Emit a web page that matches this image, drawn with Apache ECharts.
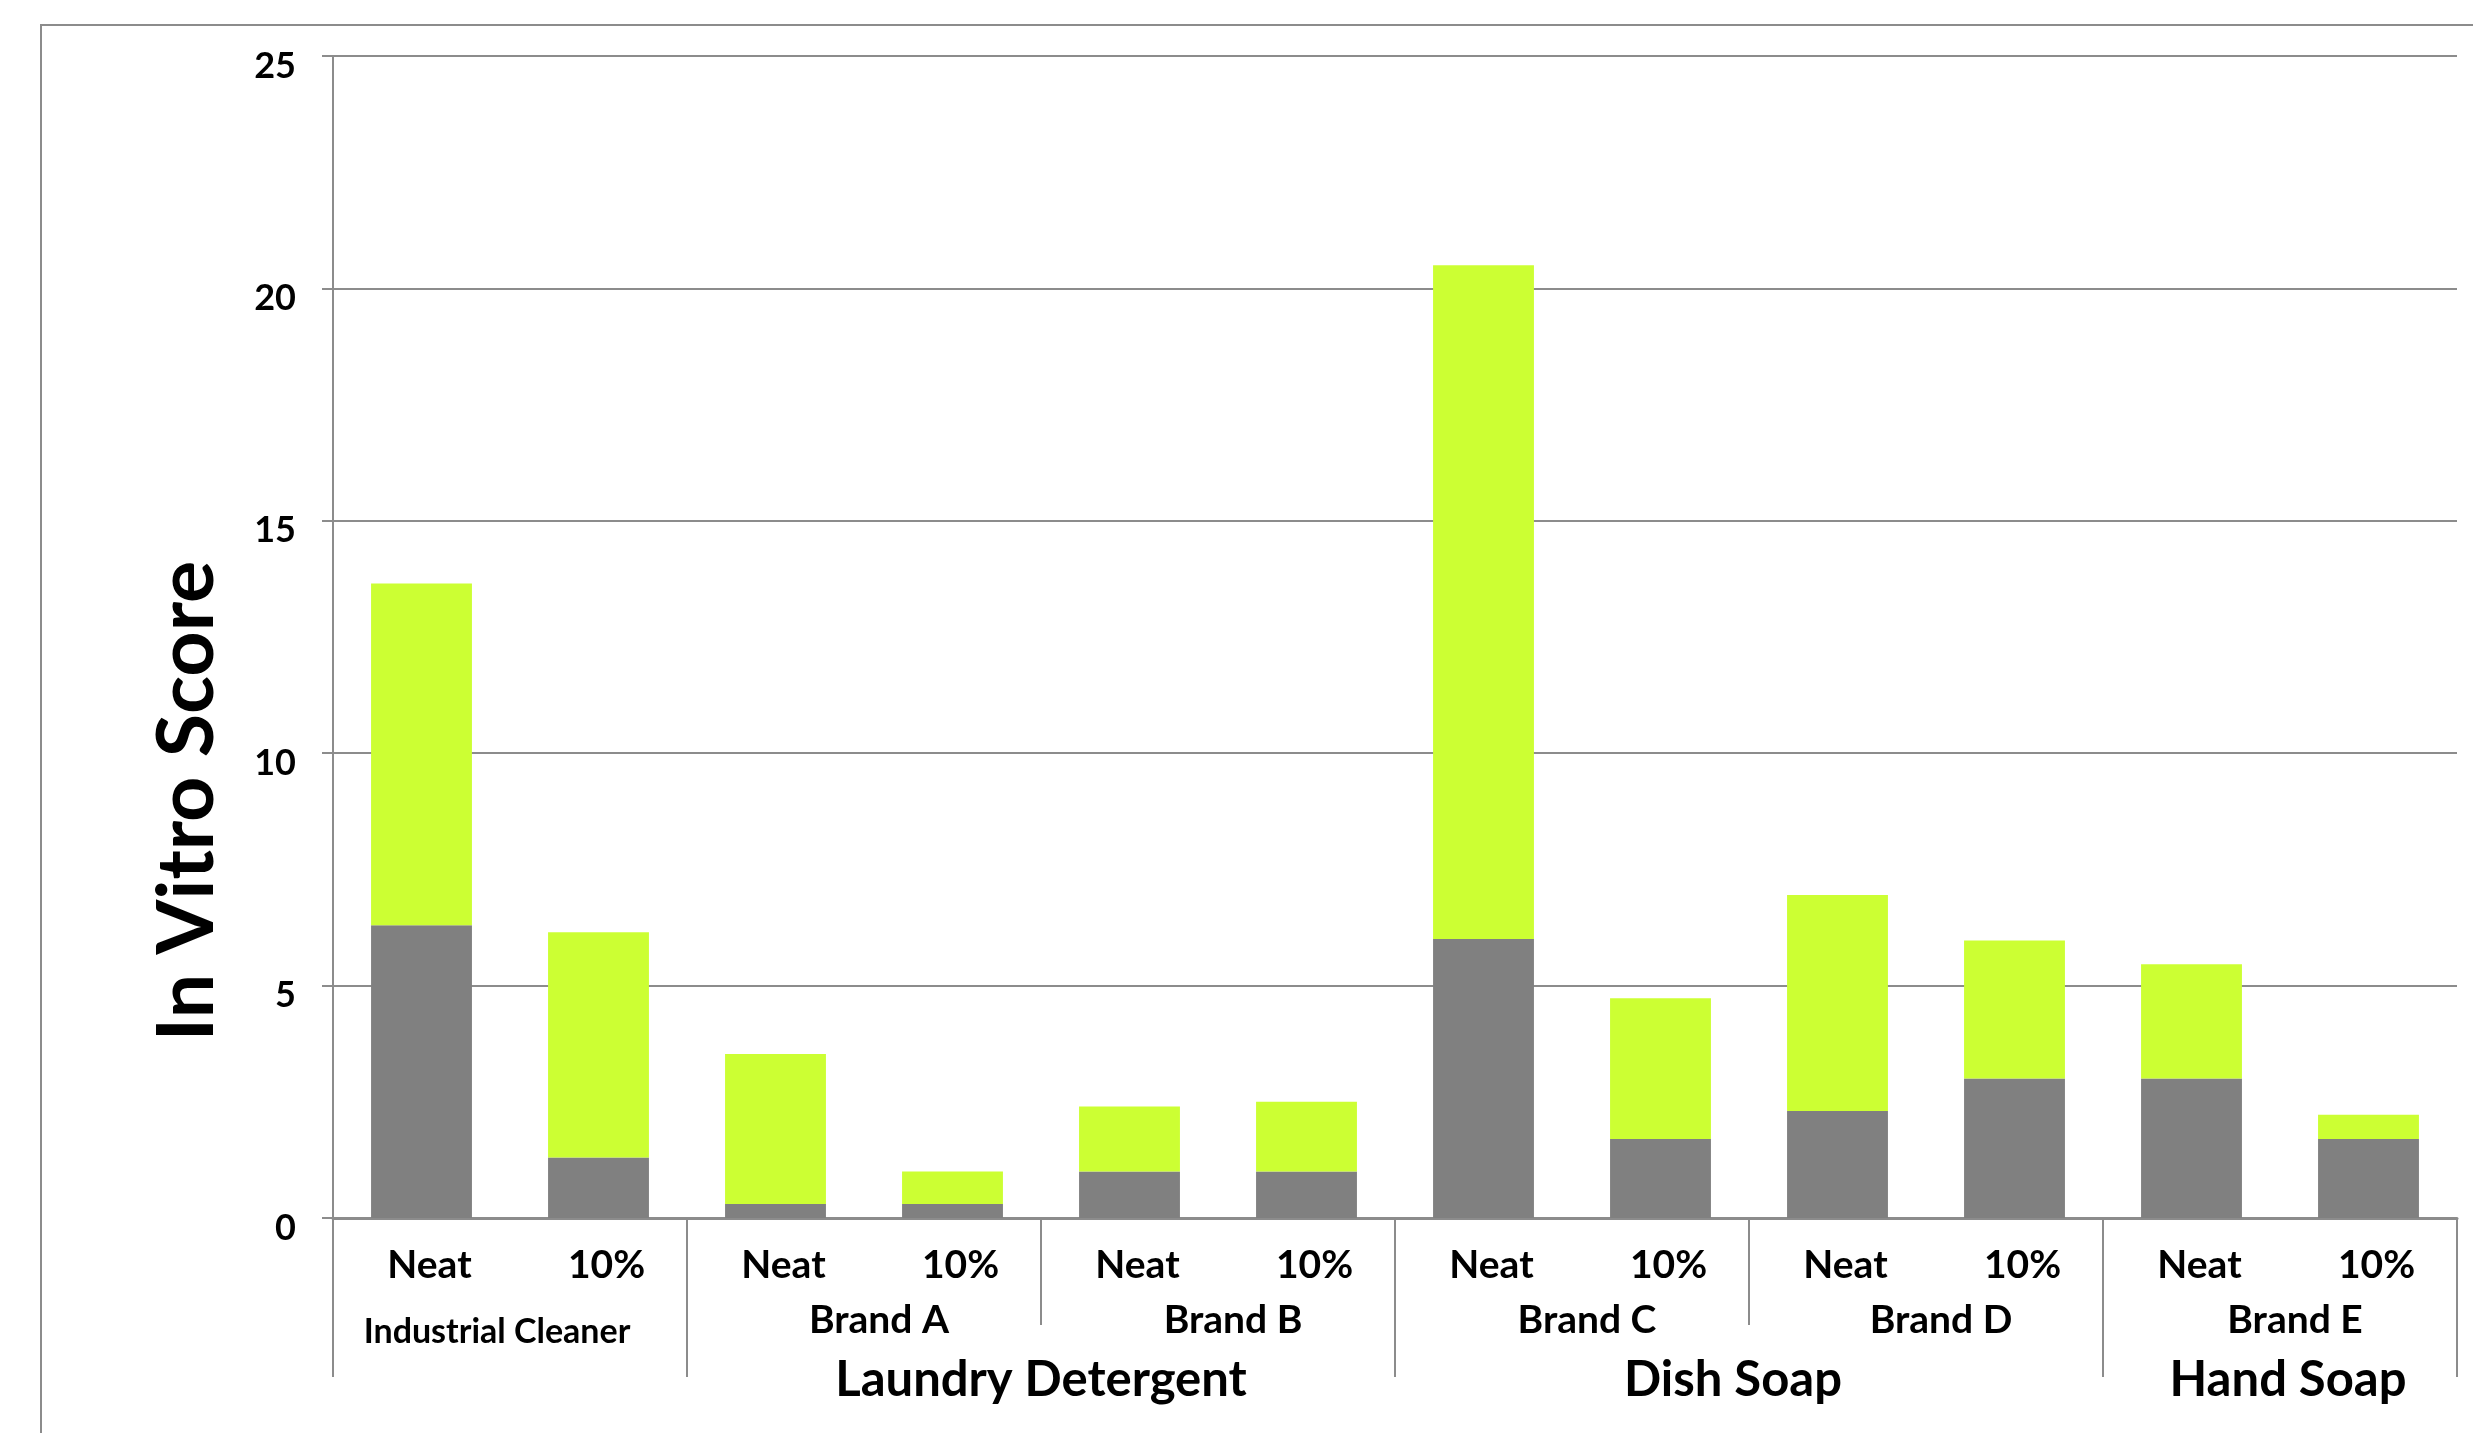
<!DOCTYPE html>
<html>
<head>
<meta charset="utf-8">
<title>In Vitro Score</title>
<script src="https://cdn.jsdelivr.net/npm/echarts@6/dist/echarts.min.js"></script>
<style>
  html, body { margin: 0; padding: 0; background: #fff; }
  #chart { width: 2473px; height: 1433px; }
</style>
</head>
<body>
<div id="chart"></div>
<script>
// Concentration of each bar, two per brand
const categories = ['Neat', '10%', 'Neat', '10%', 'Neat', '10%', 'Neat', '10%', 'Neat', '10%', 'Neat', '10%'];
// Lower (grey) and upper (green) parts of each stacked bar
const grayValues  = [6.3, 1.3, 0.3, 0.3, 1.0, 1.0, 6.0, 1.7, 2.3, 3.0, 3.0, 1.7];
const greenValues = [7.35, 4.85, 3.23, 0.7, 1.4, 1.5, 14.5, 3.03, 4.65, 2.97, 2.46, 0.52];
// Product brands and the number of bars each covers
const brandNames = ['Industrial Cleaner', 'Brand A', 'Brand B', 'Brand C', 'Brand D', 'Brand E'];
const brandSpans = [2, 2, 2, 2, 2, 2];
// Product types and the number of bars each covers
const groupNames = ['', 'Laundry Detergent', 'Dish Soap', 'Hand Soap'];
const groupSpans = [2, 4, 4, 2];
// Value axis
const yMin = 0, yMax = 25, yStep = 5;

const FONT = 'Lato';
const LINE = '#8c8c8c';

// Half-bar resolution axis: point i sits at i/2 bar widths from the left edge
const halfCount = categories.length * 2 + 1;
function spanMarks(spans) {
  const centers = [], bounds = [0];
  let acc = 0;
  spans.forEach(s => { centers.push((acc + s / 2) * 2); acc += s; bounds.push(acc * 2); });
  return { centers, bounds };
}
const brandMarks = spanMarks(brandSpans);
const groupMarks = spanMarks(groupSpans);

const brandAxisData = new Array(halfCount).fill('');
brandMarks.centers.forEach((c, i) => { brandAxisData[c] = brandNames[i]; });
const groupAxisData = new Array(halfCount).fill('');
groupMarks.centers.forEach((c, i) => { groupAxisData[c] = groupNames[i]; });

const groupBounds = new Set(groupMarks.bounds);
const brandOnlyBounds = new Set(brandMarks.bounds);

const chart = echarts.init(document.getElementById('chart'), null, { renderer: 'canvas' });

const groupText = { fontSize: 49, lineHeight: 49, fontWeight: 'bold', fontFamily: FONT, color: '#000' };

chart.setOption({
  animation: false,
  backgroundColor: '#ffffff',
  textStyle: { fontFamily: FONT },
  grid: { left: 333, right: 16, top: 56, bottom: 215, containLabel: false },
  graphic: [
    {
      type: 'rect', silent: true, z: -1,
      shape: { x: 41, y: 25, width: 3000, height: 3000 },
      style: { fill: 'none', stroke: LINE, lineWidth: 2 }
    },
    {
      type: 'text', silent: true,
      x: 188, y: 801, rotation: Math.PI / 2,
      style: {
        text: 'In Vitro Score', fontFamily: FONT, fontWeight: 'bold', fontSize: 79,
        fill: '#000', align: 'center', verticalAlign: 'middle'
      }
    }
  ],
  xAxis: [
    {
      type: 'category', data: categories, position: 'bottom',
      axisLine: { show: true, lineStyle: { color: LINE, width: 3 } },
      axisTick: { show: false },
      axisLabel: {
        interval: 0, margin: 28, color: '#000', fontFamily: FONT, fontWeight: 'bold',
        fontSize: 39, lineHeight: 39, padding: [0, 0, 0, 16]
      },
      splitLine: { show: false }
    },
    {
      type: 'category', data: brandAxisData, boundaryGap: false, position: 'bottom',
      axisLine: { show: false },
      axisTick: {
        show: true, length: 107, inside: false,
        interval: (i) => brandOnlyBounds.has(i),
        lineStyle: { color: LINE, width: 2 }
      },
      axisLabel: {
        interval: 0, margin: 83, color: '#000', fontFamily: FONT, fontWeight: 'bold',
        formatter: (v) => v === '' ? '' : (v === brandNames[0] ? '{ic|' + v + '}' : '{b|' + v + '}'),
        rich: {
          b: { fontSize: 39, lineHeight: 39, fontWeight: 'bold', fontFamily: FONT, color: '#000', padding: [0, 0, 0, 30] },
          ic: { fontSize: 34, lineHeight: 63, fontWeight: 'bold', fontFamily: FONT, color: '#000', padding: [0, 26, 0, 0] }
        }
      },
      splitLine: { show: false }
    },
    {
      type: 'category', data: groupAxisData, boundaryGap: false, position: 'bottom',
      axisLine: { show: false },
      axisTick: {
        show: true, length: 159, inside: false,
        interval: (i) => groupBounds.has(i),
        lineStyle: { color: LINE, width: 2 }
      },
      axisLabel: {
        interval: 0, margin: 138, color: '#000', fontFamily: FONT, fontWeight: 'bold',
        formatter: (v) => {
          if (v === '') return '';
          if (v === groupNames[2]) return '{left|' + v + '}';
          if (v === groupNames[3]) return '{right|' + v + '}';
          return '{g|' + v + '}';
        },
        rich: {
          g: groupText,
          left: Object.assign({}, groupText, { padding: [0, 32, 0, 0] }),
          right: Object.assign({}, groupText, { padding: [0, 0, 0, 16] })
        }
      },
      splitLine: { show: false }
    }
  ],
  yAxis: {
    type: 'value', min: yMin, max: yMax, interval: yStep,
    axisLine: { show: true, lineStyle: { color: LINE, width: 2 } },
    axisTick: { show: true, length: 11, lineStyle: { color: LINE, width: 2 } },
    axisLabel: {
      margin: 37, color: '#000', fontFamily: FONT, fontWeight: 'bold', fontSize: 36,
      verticalAlign: 'top', lineHeight: 20
    },
    splitLine: { show: true, lineStyle: { color: LINE, width: 2 } }
  },
  series: [
    {
      name: 'lower', type: 'bar', stack: 'score', xAxisIndex: 0, barWidth: '57%',
      data: grayValues, itemStyle: { color: '#808080' }
    },
    {
      name: 'upper', type: 'bar', stack: 'score', xAxisIndex: 0, barWidth: '57%',
      data: greenValues, itemStyle: { color: '#ccff33' }
    }
  ]
});
</script>
</body>
</html>
